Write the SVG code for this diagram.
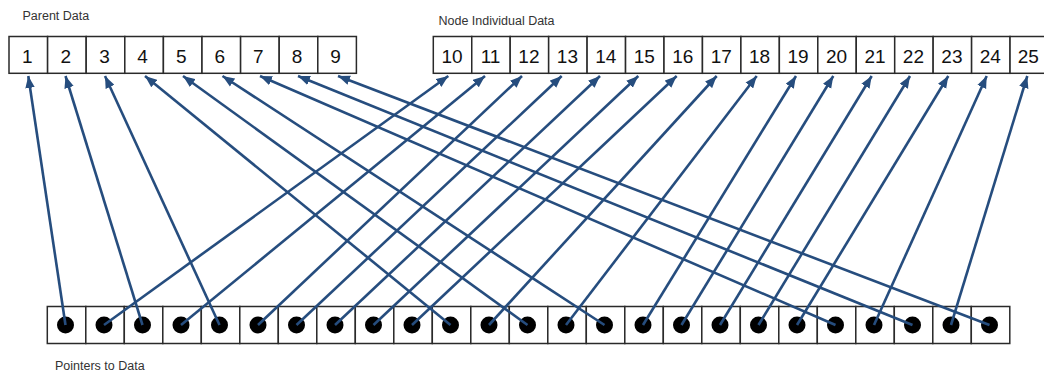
<svg xmlns="http://www.w3.org/2000/svg" width="1044" height="375" viewBox="0 0 1044 375">
<style>
.box{fill:#fff;stroke:#2a2a2a;stroke-width:1.5}
.num{font-family:"Liberation Sans",Arial,sans-serif;font-size:19px;fill:#111;text-anchor:middle}
.lbl{font-family:"Liberation Sans",Arial,sans-serif;font-size:12.5px;fill:#333}
.dot{fill:#000}
.link{fill:none;stroke:#264d7e;stroke-width:2.6;marker-end:url(#ah)}
</style>
<defs>
<marker id="ah" viewBox="0 0 10 8" refX="10" refY="4" markerWidth="12" markerHeight="10" markerUnits="userSpaceOnUse" orient="auto">
<path d="M0,0 L10,4 L0,8 z" fill="#264d7e"/>
</marker>
</defs>
<rect width="1044" height="375" fill="#fff"/>
<text class="lbl" x="22.5" y="20">Parent Data</text>
<text class="lbl" x="438.5" y="24.5">Node Individual Data</text>
<text class="lbl" x="55" y="370">Pointers to Data</text>

<g id="parent-data">
<g id="p1"><rect class="box" x="9" y="36.5" width="38.6" height="36.8"/><text class="num" x="27.3" y="62.5">1</text></g>
<g id="p2"><rect class="box" x="47.6" y="36.5" width="38.6" height="36.8"/><text class="num" x="65.9" y="62.5">2</text></g>
<g id="p3"><rect class="box" x="86.2" y="36.5" width="38.6" height="36.8"/><text class="num" x="104.5" y="62.5">3</text></g>
<g id="p4"><rect class="box" x="124.8" y="36.5" width="38.6" height="36.8"/><text class="num" x="142.6" y="62.5">4</text></g>
<g id="p5"><rect class="box" x="163.4" y="36.5" width="38.6" height="36.8"/><text class="num" x="181.2" y="62.5">5</text></g>
<g id="p6"><rect class="box" x="202" y="36.5" width="38.6" height="36.8"/><text class="num" x="219.8" y="62.5">6</text></g>
<g id="p7"><rect class="box" x="240.6" y="36.5" width="38.6" height="36.8"/><text class="num" x="258.4" y="62.5">7</text></g>
<g id="p8"><rect class="box" x="279.2" y="36.5" width="38.6" height="36.8"/><text class="num" x="297" y="62.5">8</text></g>
<g id="p9"><rect class="box" x="317.8" y="36.5" width="38.6" height="36.8"/><text class="num" x="335.6" y="62.5">9</text></g>
</g>

<g id="node-data">
<g id="n10"><rect class="box" x="433.3" y="36.5" width="38.45" height="36.8"/><text class="num" x="452" y="62.5">10</text></g>
<g id="n11"><rect class="box" x="471.75" y="36.5" width="38.45" height="36.8"/><text class="num" x="490.5" y="62.5">11</text></g>
<g id="n12"><rect class="box" x="510.2" y="36.5" width="38.45" height="36.8"/><text class="num" x="528.9" y="62.5">12</text></g>
<g id="n13"><rect class="box" x="548.65" y="36.5" width="38.45" height="36.8"/><text class="num" x="567.4" y="62.5">13</text></g>
<g id="n14"><rect class="box" x="587.1" y="36.5" width="38.45" height="36.8"/><text class="num" x="605.8" y="62.5">14</text></g>
<g id="n15"><rect class="box" x="625.55" y="36.5" width="38.45" height="36.8"/><text class="num" x="644.3" y="62.5">15</text></g>
<g id="n16"><rect class="box" x="664" y="36.5" width="38.45" height="36.8"/><text class="num" x="682.7" y="62.5">16</text></g>
<g id="n17"><rect class="box" x="702.45" y="36.5" width="38.45" height="36.8"/><text class="num" x="721.2" y="62.5">17</text></g>
<g id="n18"><rect class="box" x="740.9" y="36.5" width="38.45" height="36.8"/><text class="num" x="759.6" y="62.5">18</text></g>
<g id="n19"><rect class="box" x="779.35" y="36.5" width="38.45" height="36.8"/><text class="num" x="798.1" y="62.5">19</text></g>
<g id="n20"><rect class="box" x="817.8" y="36.5" width="38.45" height="36.8"/><text class="num" x="836.5" y="62.5">20</text></g>
<g id="n21"><rect class="box" x="856.25" y="36.5" width="38.45" height="36.8"/><text class="num" x="875" y="62.5">21</text></g>
<g id="n22"><rect class="box" x="894.7" y="36.5" width="38.45" height="36.8"/><text class="num" x="913.4" y="62.5">22</text></g>
<g id="n23"><rect class="box" x="933.15" y="36.5" width="38.45" height="36.8"/><text class="num" x="951.9" y="62.5">23</text></g>
<g id="n24"><rect class="box" x="971.6" y="36.5" width="38.45" height="36.8"/><text class="num" x="990.3" y="62.5">24</text></g>
<g id="n25"><rect class="box" x="1010.05" y="36.5" width="38.45" height="36.8"/><text class="num" x="1028.3" y="62.5">25</text></g>
</g>

<g id="pointers">
<g id="b1"><rect class="box" x="47.3" y="306.5" width="38.5" height="37"/><circle class="dot" cx="65.5" cy="325" r="8.5"/></g>
<g id="b2"><rect class="box" x="85.8" y="306.5" width="38.5" height="37"/><circle class="dot" cx="104" cy="325" r="8.5"/></g>
<g id="b3"><rect class="box" x="124.3" y="306.5" width="38.5" height="37"/><circle class="dot" cx="142.5" cy="325" r="8.5"/></g>
<g id="b4"><rect class="box" x="162.8" y="306.5" width="38.5" height="37"/><circle class="dot" cx="181" cy="325" r="8.5"/></g>
<g id="b5"><rect class="box" x="201.3" y="306.5" width="38.5" height="37"/><circle class="dot" cx="219.5" cy="325" r="8.5"/></g>
<g id="b6"><rect class="box" x="239.8" y="306.5" width="38.5" height="37"/><circle class="dot" cx="258" cy="325" r="8.5"/></g>
<g id="b7"><rect class="box" x="278.3" y="306.5" width="38.5" height="37"/><circle class="dot" cx="296.5" cy="325" r="8.5"/></g>
<g id="b8"><rect class="box" x="316.8" y="306.5" width="38.5" height="37"/><circle class="dot" cx="335" cy="325" r="8.5"/></g>
<g id="b9"><rect class="box" x="355.3" y="306.5" width="38.5" height="37"/><circle class="dot" cx="373.5" cy="325" r="8.5"/></g>
<g id="b10"><rect class="box" x="393.8" y="306.5" width="38.5" height="37"/><circle class="dot" cx="412" cy="325" r="8.5"/></g>
<g id="b11"><rect class="box" x="432.3" y="306.5" width="38.5" height="37"/><circle class="dot" cx="450.5" cy="325" r="8.5"/></g>
<g id="b12"><rect class="box" x="470.8" y="306.5" width="38.5" height="37"/><circle class="dot" cx="489" cy="325" r="8.5"/></g>
<g id="b13"><rect class="box" x="509.3" y="306.5" width="38.5" height="37"/><circle class="dot" cx="527.5" cy="325" r="8.5"/></g>
<g id="b14"><rect class="box" x="547.8" y="306.5" width="38.5" height="37"/><circle class="dot" cx="566" cy="325" r="8.5"/></g>
<g id="b15"><rect class="box" x="586.3" y="306.5" width="38.5" height="37"/><circle class="dot" cx="604.5" cy="325" r="8.5"/></g>
<g id="b16"><rect class="box" x="624.8" y="306.5" width="38.5" height="37"/><circle class="dot" cx="643" cy="325" r="8.5"/></g>
<g id="b17"><rect class="box" x="663.3" y="306.5" width="38.5" height="37"/><circle class="dot" cx="681.5" cy="325" r="8.5"/></g>
<g id="b18"><rect class="box" x="701.8" y="306.5" width="38.5" height="37"/><circle class="dot" cx="720" cy="325" r="8.5"/></g>
<g id="b19"><rect class="box" x="740.3" y="306.5" width="38.5" height="37"/><circle class="dot" cx="758.5" cy="325" r="8.5"/></g>
<g id="b20"><rect class="box" x="778.8" y="306.5" width="38.5" height="37"/><circle class="dot" cx="797" cy="325" r="8.5"/></g>
<g id="b21"><rect class="box" x="817.3" y="306.5" width="38.5" height="37"/><circle class="dot" cx="835.5" cy="325" r="8.5"/></g>
<g id="b22"><rect class="box" x="855.8" y="306.5" width="38.5" height="37"/><circle class="dot" cx="874" cy="325" r="8.5"/></g>
<g id="b23"><rect class="box" x="894.3" y="306.5" width="38.5" height="37"/><circle class="dot" cx="912.5" cy="325" r="8.5"/></g>
<g id="b24"><rect class="box" x="932.8" y="306.5" width="38.5" height="37"/><circle class="dot" cx="951" cy="325" r="8.5"/></g>
<g id="b25"><rect class="box" x="971.3" y="306.5" width="38.5" height="37"/><circle class="dot" cx="989.5" cy="325" r="8.5"/></g>
</g>

<g id="connectors">
<line class="link" x1="65.5" y1="325" x2="28.3" y2="76"/>
<line class="link" x1="142.5" y1="325" x2="65.5" y2="76"/>
<line class="link" x1="219.5" y1="325" x2="105" y2="76"/>
<line class="link" x1="450.5" y1="325" x2="145" y2="76"/>
<line class="link" x1="527.5" y1="325" x2="183" y2="76"/>
<line class="link" x1="604.5" y1="325" x2="222.5" y2="76"/>
<line class="link" x1="835.5" y1="325" x2="260" y2="76"/>
<line class="link" x1="912.5" y1="325" x2="298" y2="76"/>
<line class="link" x1="989.5" y1="325" x2="338" y2="76"/>
<line class="link" x1="104" y1="325" x2="448.3" y2="76"/>
<line class="link" x1="181" y1="325" x2="485" y2="76"/>
<line class="link" x1="258" y1="325" x2="522" y2="76"/>
<line class="link" x1="296.5" y1="325" x2="561.7" y2="76"/>
<line class="link" x1="335" y1="325" x2="600" y2="76"/>
<line class="link" x1="373.5" y1="325" x2="638.3" y2="76"/>
<line class="link" x1="412" y1="325" x2="676.7" y2="76"/>
<line class="link" x1="489" y1="325" x2="716.7" y2="76"/>
<line class="link" x1="566" y1="325" x2="756.7" y2="76"/>
<line class="link" x1="643" y1="325" x2="796" y2="76"/>
<line class="link" x1="681.5" y1="325" x2="833.3" y2="76"/>
<line class="link" x1="720" y1="325" x2="871.7" y2="76"/>
<line class="link" x1="758.5" y1="325" x2="910" y2="76"/>
<line class="link" x1="797" y1="325" x2="948.3" y2="76"/>
<line class="link" x1="874" y1="325" x2="986.7" y2="76"/>
<line class="link" x1="951" y1="325" x2="1027.3" y2="76"/>
</g>
</svg>
